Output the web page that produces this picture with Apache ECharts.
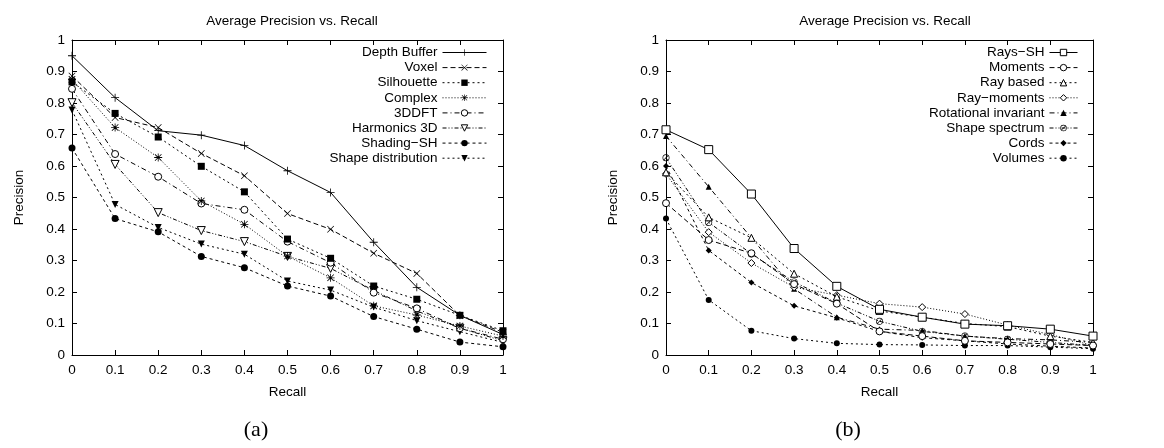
<!DOCTYPE html>
<html><head><meta charset="utf-8">
<script src="https://cdn.jsdelivr.net/npm/echarts@6/dist/echarts.min.js"></script>
<style>html,body{margin:0;padding:0;background:#fff}#c{width:1164px;height:448px}</style>
</head><body><div id="c"></div>
<script>
// ---------- data ----------
const recall = [0, 0.1, 0.2, 0.3, 0.4, 0.5, 0.6, 0.7, 0.8, 0.9, 1];
const axisTicks = [0, 0.1, 0.2, 0.3, 0.4, 0.5, 0.6, 0.7, 0.8, 0.9, 1];

// panel (a)
const namesA = ['Depth Buffer', 'Voxel', 'Silhouette', 'Complex', '3DDFT', 'Harmonics 3D', 'Shading\u2212SH', 'Shape distribution'];
const depthBuffer   = [0.950, 0.817, 0.712, 0.698, 0.665, 0.585, 0.516, 0.358, 0.215, 0.126, 0.065];
const voxel         = [0.886, 0.754, 0.722, 0.640, 0.569, 0.449, 0.399, 0.323, 0.259, 0.125, 0.072];
const silhouette    = [0.867, 0.767, 0.692, 0.599, 0.518, 0.368, 0.307, 0.219, 0.177, 0.126, 0.077];
const complexD      = [0.875, 0.722, 0.627, 0.489, 0.415, 0.314, 0.245, 0.156, 0.127, 0.092, 0.060];
const dft3d         = [0.845, 0.638, 0.566, 0.481, 0.461, 0.360, 0.293, 0.198, 0.148, 0.085, 0.050];
const harmonics3d   = [0.801, 0.605, 0.452, 0.395, 0.360, 0.313, 0.275, 0.205, 0.140, 0.085, 0.045];
const shadingSH     = [0.657, 0.433, 0.391, 0.313, 0.277, 0.219, 0.187, 0.122, 0.082, 0.041, 0.026];
const shapeDist     = [0.778, 0.478, 0.405, 0.352, 0.320, 0.235, 0.206, 0.152, 0.109, 0.074, 0.040];

// panel (b)
const namesB = ['Rays\u2212SH', 'Moments', 'Ray based', 'Ray\u2212moments', 'Rotational invariant', 'Shape spectrum', 'Cords', 'Volumes'];
const raysSH        = [0.715, 0.652, 0.511, 0.338, 0.218, 0.145, 0.120, 0.098, 0.093, 0.082, 0.060];
const moments       = [0.482, 0.365, 0.323, 0.225, 0.163, 0.075, 0.060, 0.045, 0.040, 0.035, 0.030];
const rayBased      = [0.580, 0.437, 0.372, 0.258, 0.185, 0.140, 0.120, 0.100, 0.090, 0.060, 0.040];
const rayMoments    = [0.575, 0.390, 0.292, 0.215, 0.190, 0.163, 0.152, 0.130, 0.095, 0.065, 0.030];
const rotInvariant  = [0.695, 0.534, 0.372, 0.210, 0.120, 0.082, 0.078, 0.060, 0.052, 0.048, 0.040];
const shapeSpectrum = [0.626, 0.421, 0.321, 0.232, 0.165, 0.107, 0.075, 0.060, 0.050, 0.040, 0.030];
const cords         = [0.600, 0.332, 0.230, 0.156, 0.118, 0.075, 0.055, 0.045, 0.035, 0.028, 0.022];
const volumes       = [0.433, 0.175, 0.077, 0.052, 0.037, 0.033, 0.032, 0.030, 0.030, 0.025, 0.020];

const valuesA = [depthBuffer, voxel, silhouette, complexD, dft3d, harmonics3d, shadingSH, shapeDist];
const valuesB = [raysSH, moments, rayBased, rayMoments, rotInvariant, shapeSpectrum, cords, volumes];

// ---------- styles ----------
const FONT = '"Liberation Sans", Arial, sans-serif';
const FS = 13.5;
const PLUS = 'path://M4.5,0H5.5V4.5H10V5.5H5.5V10H4.5V5.5H0V4.5H4.5Z';
const CROSS = 'path://M0,0.7L0.7,0L5,4.3L9.3,0L10,0.7L5.7,5L10,9.3L9.3,10L5,5.7L0.7,10L0,9.3L4.3,5Z';
const STAR = 'path://M4.5,0H5.5V4.5H10V5.5H5.5V10H4.5V5.5H0V4.5H4.5Z M0.6,1.3L1.3,0.6L5,4.3L8.7,0.6L9.4,1.3L5.7,5L9.4,8.7L8.7,9.4L5,5.7L1.3,9.4L0.6,8.7L4.3,5Z';
const DTRI = 'path://M0,0L10,0L5,9Z';
const CSLASH = 'path://M5,0A5,5 0 1 1 4.99,0Z M5,1A4,4 0 1 0 5.01,1Z M1.8,7.5L7.5,1.8L8.2,2.5L2.5,8.2Z';

const styleA = [
  {sym: PLUS,   size: 8, fill: '#000', bw: 0, dash: 'solid'},
  {sym: CROSS,  size: 7, fill: '#000', bw: 0, dash: [5, 3]},
  {sym: 'rect', size: 7, fill: '#000', bw: 0, dash: [2, 3]},
  {sym: STAR,   size: 8, fill: '#000', bw: 0, dash: [1, 2]},
  {sym: 'circle', size: 7, fill: '#fff', bw: 1, dash: [5, 3, 1, 3]},
  {sym: DTRI,   size: 8, fill: '#fff', bw: 1, dash: [4, 2, 1, 2, 1, 2]},
  {sym: 'circle', size: 7, fill: '#000', bw: 0, dash: [3, 3]},
  {sym: DTRI,   size: 7, fill: '#000', bw: 0, dash: [2, 3]}
];
const styleB = [
  {sym: 'rect', size: 8, fill: '#fff', bw: 1, dash: 'solid'},
  {sym: 'circle', size: 7, fill: '#fff', bw: 1, dash: [5, 3]},
  {sym: 'triangle', size: 7, fill: '#fff', bw: 1, dash: [2, 3]},
  {sym: 'diamond', size: 7, fill: '#fff', bw: 1, dash: [1, 2]},
  {sym: 'triangle', size: 6, fill: '#000', bw: 0, dash: [5, 3, 1, 3]},
  {sym: CSLASH, size: 7, fill: '#000', bw: 0, dash: [4, 2, 1, 2, 1, 2]},
  {sym: 'diamond', size: 6, fill: '#000', bw: 0, dash: [3, 3]},
  {sym: 'circle', size: 6, fill: '#000', bw: 0, dash: [2, 3]}
];

// ---------- layout ----------
const grids = [
  {left: 72, top: 40, width: 431, height: 315},
  {left: 666, top: 40, width: 427, height: 315}
];
const legendRight = [677, 86];
const legendItemW = [44, 28];

const fmt = v => String(Math.round(v * 10) / 10);

const xAxes = [], yAxes = [];
grids.forEach((g, gi) => {
  const base = {
    type: 'value', gridIndex: gi, min: axisTicks[0], max: axisTicks[axisTicks.length - 1], interval: 0.1,
    axisLine: {show: true, onZero: false, lineStyle: {color: '#000', width: 1}},
    axisTick: {show: true, inside: true, length: 5, lineStyle: {color: '#000'}},
    splitLine: {show: false}
  };
  xAxes.push(Object.assign({}, base, {
    position: 'bottom', name: 'Recall', nameLocation: 'middle', nameGap: 30,
    nameTextStyle: {fontFamily: FONT, fontSize: FS, color: '#000'},
    axisLabel: {formatter: fmt, margin: 8, fontFamily: FONT, fontSize: FS, color: '#000'}
  }));
  xAxes.push(Object.assign({}, base, {position: 'top', axisLabel: {show: false}}));
  yAxes.push(Object.assign({}, base, {
    position: 'left', name: 'Precision', nameLocation: 'middle', nameGap: 46, nameRotate: 90,
    nameTextStyle: {fontFamily: FONT, fontSize: FS, color: '#000'},
    axisLabel: {formatter: fmt, margin: 7, fontFamily: FONT, fontSize: FS, color: '#000'}
  }));
  yAxes.push(Object.assign({}, base, {position: 'right', axisLabel: {show: false}}));
});

const series = [], legends = [];
[[namesA, valuesA, styleA], [namesB, valuesB, styleB]].forEach(([names, vals, styles], gi) => {
  names.forEach((nm, i) => {
    const s = styles[i];
    series.push({
      type: 'line', name: nm, xAxisIndex: gi * 2, yAxisIndex: gi * 2,
      data: recall.map((r, k) => [r, vals[i][k]]),
      symbol: s.sym, symbolSize: s.size, showSymbol: true,
      lineStyle: {color: '#000', width: 1, type: s.dash},
      itemStyle: {color: s.fill, borderColor: '#000', borderWidth: s.bw},
      emphasis: {disabled: true}, silent: true, z: 10 - i
    });
    legends.push({
      data: [nm], right: legendRight[gi], top: 53.5 + 15.1 * i - 8,
      orient: 'vertical', align: 'right', padding: 0, itemGap: 0,
      itemWidth: legendItemW[gi], itemHeight: 8, selectedMode: false,
      lineStyle: {width: 1, color: '#000', type: s.dash},
      itemStyle: {color: s.fill, borderColor: '#000', borderWidth: s.bw},
      textStyle: {fontFamily: FONT, fontSize: FS, color: '#000'}
    });
  });
});

const chart = echarts.init(document.getElementById('c'), null, {renderer: 'canvas'});
chart.setOption({
  animation: false,
  backgroundColor: '#fff',
  title: [
    {text: 'Average Precision vs. Recall', left: 287, top: 9, textAlign: 'center',
     textStyle: {fontFamily: FONT, fontSize: FS, fontWeight: 'normal', color: '#000'}},
    {text: 'Average Precision vs. Recall', left: 880, top: 9, textAlign: 'center',
     textStyle: {fontFamily: FONT, fontSize: FS, fontWeight: 'normal', color: '#000'}}
  ],
  grid: grids,
  xAxis: xAxes,
  yAxis: yAxes,
  legend: legends,
  series: series,
  graphic: [
    {type: 'text', x: 256, y: 430, style: {text: '(a)', font: '22px "Liberation Serif", serif', fill: '#000', textAlign: 'center', textVerticalAlign: 'middle'}},
    {type: 'text', x: 848, y: 430, style: {text: '(b)', font: '22px "Liberation Serif", serif', fill: '#000', textAlign: 'center', textVerticalAlign: 'middle'}}
  ]
});
</script></body></html>
